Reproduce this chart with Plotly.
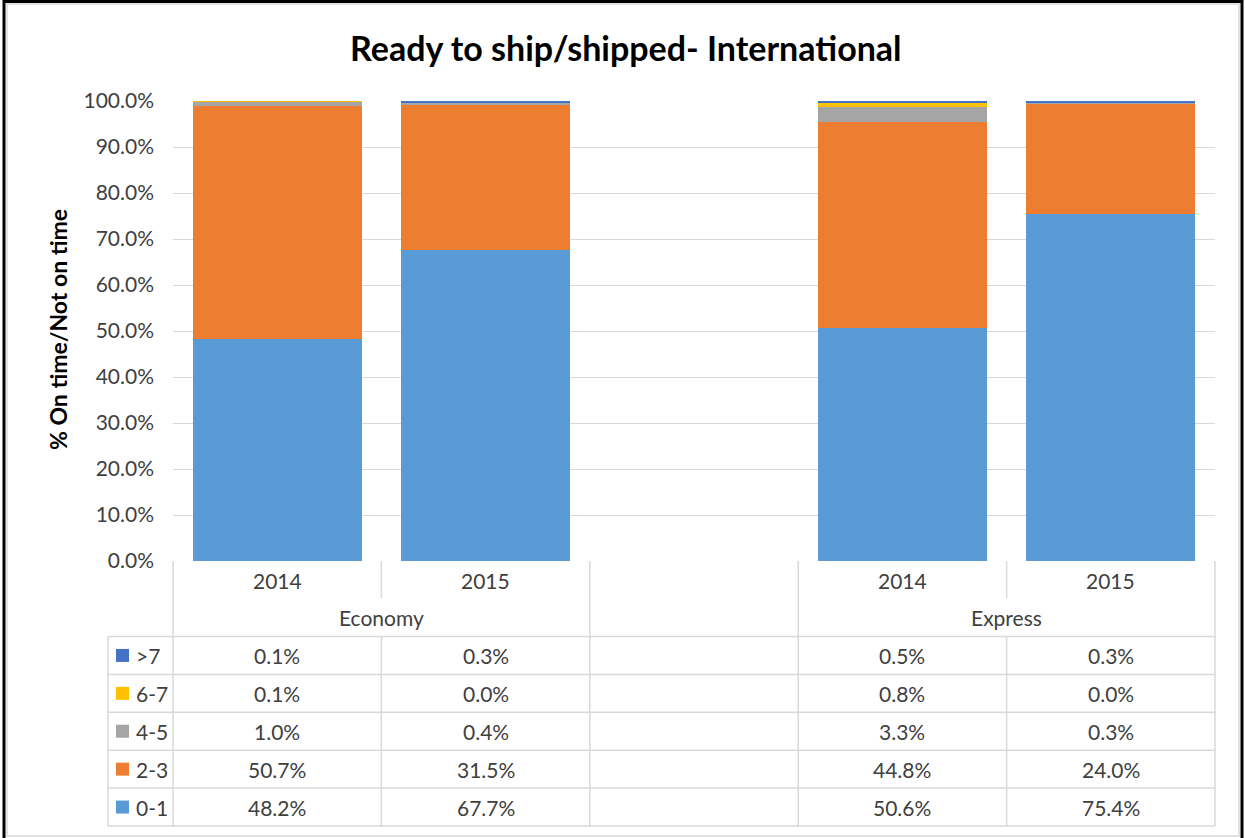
import plotly.graph_objects as go

# ---- data ----
groups = ["Economy", "Express"]
years = ["2014", "2015"]
bands = ["0-1", "2-3", "4-5", "6-7", ">7"]
band_colors = {"0-1": "#5B9BD5", "2-3": "#ED7D31", "4-5": "#A5A5A5",
               "6-7": "#FFC000", ">7": "#4472C4"}
# percent values per band, columns: Economy 2014, Economy 2015, Express 2014, Express 2015
share_0_1 = [48.2, 67.7, 50.6, 75.4]
share_2_3 = [50.7, 31.5, 44.8, 24.0]
share_4_5 = [1.0, 0.4, 3.3, 0.3]
share_6_7 = [0.1, 0.0, 0.8, 0.0]
share_gt7 = [0.1, 0.3, 0.5, 0.3]
series = {"0-1": share_0_1, "2-3": share_2_3, "4-5": share_4_5,
          "6-7": share_6_7, ">7": share_gt7}

# slot positions on the category axis (slot 2 is an empty spacer column)
slots = [0, 1, 3, 4]

W, H = 1245, 838
L, R, T, B = 173, 1215, 101, 561
FONT = "Lato, 'Open Sans', sans-serif"
GRID = "#D9D9D9"
TXT = "#404040"
FS = 21


def px_x(px):
    return (px - L) / (R - L)


def px_y(py):
    return (B - py) / (B - T)


def slot_px(s):
    return L + (s + 0.5) * (R - L) / 5


fig = go.Figure()
for b in bands:
    fig.add_trace(go.Bar(x=slots, y=series[b], name=b,
                         marker=dict(color=band_colors[b], line=dict(width=0)),
                         width=0.81, showlegend=False))

shapes = []
annotations = []


def hline(x0, x1, y, color=GRID, width=1.5):
    shapes.append(dict(type="line", xref="paper", yref="paper",
                       x0=px_x(x0), x1=px_x(x1), y0=px_y(y), y1=px_y(y),
                       line=dict(color=color, width=width)))


def vline(x, y0, y1, color=GRID, width=1.5):
    shapes.append(dict(type="line", xref="paper", yref="paper",
                       x0=px_x(x), x1=px_x(x), y0=px_y(y0), y1=px_y(y1),
                       line=dict(color=color, width=width)))


def text(x, y, s, size=FS, color=TXT, bold=False, xanchor="center", angle=0):
    annotations.append(dict(xref="paper", yref="paper", x=px_x(x), y=px_y(y),
                            text=f"<b>{s}</b>" if bold else s, showarrow=False,
                            xanchor=xanchor, yanchor="middle", textangle=angle,
                            font=dict(family=FONT, size=size, color=color)))


# data table grid
col_edges = [L + i * (R - L) / 5 for i in range(6)]
row_top, year_bot, head_bot = 561, 598, 636.5
row_h = 37.9
row_lines = [head_bot + i * row_h for i in range(6)]
leg_left = 108

for y in row_lines:
    hline(leg_left, R, y)
for x in [col_edges[0], col_edges[2], col_edges[3], col_edges[5]]:
    vline(x, row_top, row_lines[-1])
for x in [col_edges[1], col_edges[4]]:
    vline(x, row_top, year_bot)
    vline(x, head_bot, row_lines[-1])
vline(leg_left, head_bot, row_lines[-1])

# year and group headers
for gi, g in enumerate(groups):
    for yi, yr in enumerate(years):
        text(slot_px(slots[gi * 2 + yi]), (row_top + year_bot) / 2 + 1, yr)
    text(col_edges[gi * 3 + 1], (year_bot + head_bot) / 2, g)

# value rows, top row is ">7"
for ri, b in enumerate(reversed(bands)):
    yc = (row_lines[ri] + row_lines[ri + 1]) / 2
    shapes.append(dict(type="rect", xref="paper", yref="paper",
                       x0=px_x(116), x1=px_x(129), y0=px_y(yc - 6.5), y1=px_y(yc + 6.5),
                       fillcolor=band_colors[b], line=dict(width=0)))
    text(134, yc, b, xanchor="left")
    for ci, v in enumerate(series[b]):
        text(slot_px(slots[ci]), yc, f"{v:.1f}%")

# outer frame
shapes.append(dict(type="rect", xref="paper", yref="paper",
                   x0=px_x(7), x1=px_x(1239), y0=px_y(4), y1=px_y(836),
                   line=dict(color=GRID, width=1.5)))
shapes.append(dict(type="rect", xref="paper", yref="paper",
                   x0=px_x(4), x1=px_x(1242), y0=px_y(1.5), y1=px_y(845),
                   line=dict(color="#000000", width=3)))

# titles
text(626, 47, "Ready to ship/shipped- International", size=34, color="#000000", bold=True)
text(58, 330, "% On time/Not on time", size=23, color="#000000", bold=True, angle=-90)

fig.update_layout(
    width=W, height=H,
    margin=dict(l=L, r=W - R, t=T, b=H - B),
    barmode="stack",
    paper_bgcolor="white", plot_bgcolor="white",
    font=dict(family=FONT, size=FS, color=TXT),
    shapes=shapes, annotations=annotations,
    xaxis=dict(range=[-0.5, 4.5], showticklabels=False, showgrid=False,
               zeroline=False, showline=False, ticks=""),
    yaxis=dict(range=[0, 100], dtick=10, tickformat=".1f", ticksuffix="%",
               showgrid=True, gridcolor=GRID, gridwidth=1.2, zeroline=False,
               showline=False, ticks="", ticklen=0, ticklabelstandoff=18,
               tickfont=dict(family=FONT, size=FS, color=TXT)),
)

fig.write_html("out.html")
